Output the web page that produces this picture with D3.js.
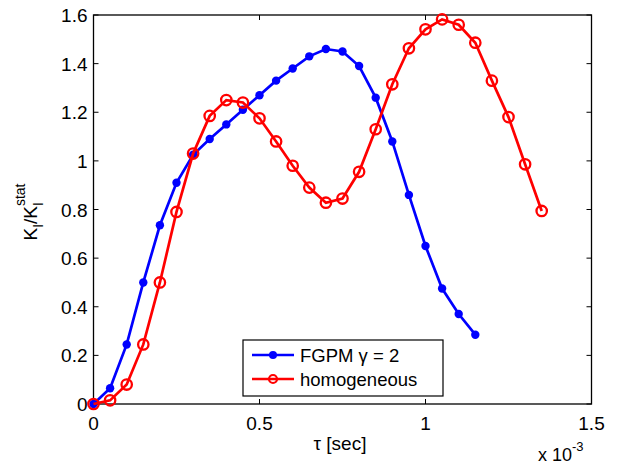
<!DOCTYPE html>
<html><head><meta charset="utf-8">
<script src="https://cdn.jsdelivr.net/npm/d3@7"></script>
<style>body{margin:0;background:#fff}svg{display:block}text{font-family:"Liberation Sans",Arial,sans-serif;fill:#000}</style>
</head><body>
<script>
const tau = [0,0.05,0.1,0.15,0.2,0.25,0.3,0.35,0.4,0.45,0.5,0.55,0.6,0.65,0.7,0.75,0.8,0.85,0.9,0.95,1.0,1.05,1.1,1.15,1.2,1.25,1.3,1.35];
const fgpm = [0,0.065,0.245,0.5,0.735,0.91,1.025,1.09,1.15,1.21,1.27,1.33,1.38,1.43,1.46,1.45,1.39,1.26,1.08,0.86,0.65,0.475,0.37,0.285];
const homog = [0,0.015,0.08,0.245,0.5,0.79,1.03,1.185,1.25,1.24,1.175,1.08,0.98,0.89,0.828,0.845,0.955,1.13,1.315,1.463,1.541,1.582,1.56,1.486,1.33,1.18,0.986,0.794];
const xTicks = [0,0.5,1,1.5];
const yTicks = [0,0.2,0.4,0.6,0.8,1,1.2,1.4,1.6];
const seriesNames = ["FGPM \u03b3 = 2","homogeneous"];

const W=621,H=466;
const svg=d3.select("body").append("svg").attr("width",W).attr("height",H);
const x=d3.scaleLinear().domain([0,1.5]).range([93.5,591.5]);
const y=d3.scaleLinear().domain([0,1.6]).range([404,15]);
const fs=19;

svg.append("rect").attr("x",x(0)).attr("y",y(1.6)).attr("width",x(1.5)-x(0)).attr("height",y(0)-y(1.6))
  .attr("fill","#fff").attr("stroke","#000").attr("stroke-width",1.3);
const tl=5;
xTicks.forEach(t=>{
  svg.append("line").attr("x1",x(t)).attr("x2",x(t)).attr("y1",y(0)).attr("y2",y(0)-tl).attr("stroke","#000");
  svg.append("line").attr("x1",x(t)).attr("x2",x(t)).attr("y1",y(1.6)).attr("y2",y(1.6)+tl).attr("stroke","#000");
  svg.append("text").attr("x",x(t)).attr("y",y(0)+26).attr("text-anchor","middle").attr("font-size",fs).text(d3.format("~g")(t));
});
yTicks.forEach(t=>{
  svg.append("line").attr("x1",x(0)).attr("x2",x(0)+tl).attr("y1",y(t)).attr("y2",y(t)).attr("stroke","#000");
  svg.append("line").attr("x1",x(1.5)).attr("x2",x(1.5)-tl).attr("y1",y(t)).attr("y2",y(t)).attr("stroke","#000");
  svg.append("text").attr("x",x(0)-6).attr("y",y(t)+7).attr("text-anchor","end").attr("font-size",fs).text(d3.format("~g")(t));
});
const ex=svg.append("text").attr("x",538).attr("y",461).attr("font-size",18);
ex.append("tspan").text("x 10");
ex.append("tspan").attr("dy",-10).attr("font-size",13).text("-3");
svg.append("text").attr("x",340).attr("y",450).attr("text-anchor","middle").attr("font-size",fs).text("\u03c4 [sec]");
const yl=svg.append("text").attr("transform","translate(37,212) rotate(-90)").attr("text-anchor","middle").attr("font-size",fs);
yl.append("tspan").text("K");
yl.append("tspan").attr("dy",6).attr("font-size",14).text("I");
yl.append("tspan").attr("dy",-6).text("/K");
yl.append("tspan").attr("dy",6).attr("font-size",14).text("I");
yl.append("tspan").attr("dy",-18).attr("dx",-4).attr("font-size",14).text("stat");

const line=d3.line().x(d=>x(d[0])).y(d=>y(d[1]));
const bData=fgpm.map((v,i)=>[tau[i],v]);
const rData=homog.map((v,i)=>[tau[i],v]);
const blue="#0000ff",red="#ff0000";
svg.append("path").attr("d",line(bData)).attr("fill","none").attr("stroke",blue).attr("stroke-width",2.7);
svg.selectAll(".bm").data(bData).enter().append("circle").attr("cx",d=>x(d[0])).attr("cy",d=>y(d[1])).attr("r",4.2).attr("fill",blue);
svg.append("path").attr("d",line(rData)).attr("fill","none").attr("stroke",red).attr("stroke-width",2.7);
svg.selectAll(".rm").data(rData).enter().append("circle").attr("cx",d=>x(d[0])).attr("cy",d=>y(d[1])).attr("r",5.2).attr("fill","none").attr("stroke",red).attr("stroke-width",2.3);

const lg=svg.append("g");
lg.append("rect").attr("x",243).attr("y",340).attr("width",200).attr("height",56).attr("fill","#fff").attr("stroke","#000").attr("stroke-width",1.2);
[[blue,0],[red,1]].forEach(([c,i])=>{
  const yy=355+i*24;
  lg.append("line").attr("x1",252).attr("x2",294).attr("y1",yy).attr("y2",yy).attr("stroke",c).attr("stroke-width",2.7);
  if(i===0) lg.append("circle").attr("cx",273).attr("cy",yy).attr("r",4).attr("fill",c);
  else lg.append("circle").attr("cx",273).attr("cy",yy).attr("r",4).attr("fill","none").attr("stroke",c).attr("stroke-width",2.2);
  lg.append("text").attr("x",300).attr("y",yy+7).attr("font-size",18.5).text(seriesNames[i]);
});
</script>
</body></html>
